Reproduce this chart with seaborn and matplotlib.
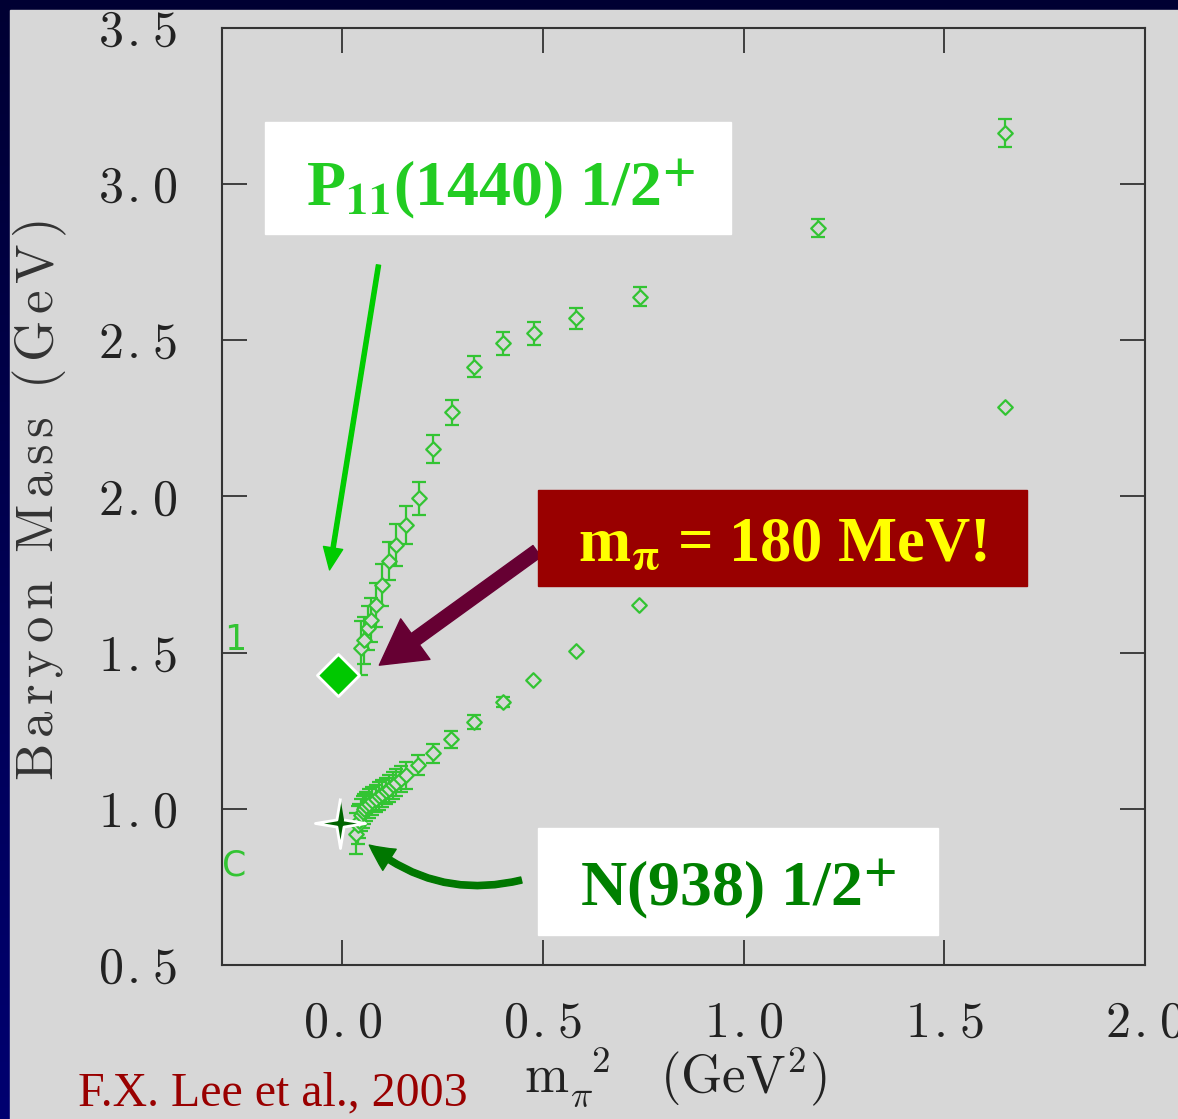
"""
Baryon mass vs m_pi^2 (F.X. Lee et al., 2003) - slide recreation
Output: out.png
"""
import matplotlib
matplotlib.use('Agg')
import matplotlib.pyplot as plt
from matplotlib.patches import Rectangle
from matplotlib.path import Path
from matplotlib.colors import LinearSegmentedColormap
import seaborn as sns
import pandas as pd
import numpy as np

# --- data ---
# excited state (P11 channel), m_pi^2 in GeV^2, mass in GeV
p11_x = [0.047, 0.055, 0.063, 0.072, 0.084, 0.098, 0.116, 0.134, 0.159, 0.190,
         0.225, 0.273, 0.329, 0.400, 0.477, 0.583, 0.741, 1.185, 1.651]
p11_y = [1.515, 1.540, 1.580, 1.604, 1.652, 1.716, 1.793, 1.845, 1.909, 1.994,
         2.152, 2.269, 2.416, 2.490, 2.522, 2.570, 2.640, 2.860, 3.164]
p11_err = [0.085, 0.075, 0.070, 0.070, 0.070, 0.067, 0.060, 0.067, 0.060, 0.053,
           0.044, 0.040, 0.034, 0.038, 0.036, 0.033, 0.031, 0.030, 0.045]

# nucleon ground state
nuc_x = [0.034, 0.038, 0.042, 0.047, 0.051, 0.055, 0.060, 0.067, 0.075, 0.084,
         0.092, 0.099, 0.108, 0.117, 0.125, 0.134, 0.146, 0.159, 0.188, 0.225,
         0.271, 0.329, 0.399, 0.476, 0.581, 0.738, 1.651]
nuc_y = [0.921, 0.948, 0.962, 0.980, 0.990, 1.000, 1.008, 1.017, 1.025, 1.033,
         1.041, 1.049, 1.057, 1.065, 1.075, 1.084, 1.096, 1.108, 1.140, 1.178,
         1.222, 1.279, 1.342, 1.412, 1.505, 1.652, 2.286]
nuc_err = [0.065, 0.060, 0.055, 0.050, 0.050, 0.048, 0.046, 0.045, 0.045, 0.044,
           0.044, 0.043, 0.043, 0.042, 0.042, 0.042, 0.042, 0.043, 0.033, 0.030,
           0.026, 0.023, 0.015, 0.0, 0.0, 0.0, 0.0]

# physical points
phys_p11 = (-0.012, 1.43)
phys_nuc = (-0.007, 0.955)

x_ticks = [0.0, 0.5, 1.0, 1.5, 2.0]
y_ticks = [0.5, 1.0, 1.5, 2.0, 2.5, 3.0, 3.5]

df_p = pd.DataFrame({'x': p11_x, 'y': p11_y, 'err': p11_err})
df_n = pd.DataFrame({'x': nuc_x, 'y': nuc_y, 'err': nuc_err})

sns.set_style('ticks')
plt.rcParams['font.family'] = ['Liberation Serif', 'DejaVu Serif']
plt.rcParams['mathtext.fontset'] = 'cm'

W, H = 1178, 1119
GRAY = '#d7d7d7'
GREEN = '#33c433'


def spaced(txt, gap):
    # computer-modern text with a little letter spacing, like the old plot
    parts = [r'\ ' if ch == ' ' else ch for ch in txt]
    return r'$\mathrm{' + (r'\hspace{%g}' % gap).join(parts) + '}$'


fig = plt.figure(figsize=(W / 100, H / 100), dpi=100)
fig.patch.set_facecolor('#000033')

# navy slide background + gray plot panel
bg = fig.add_axes([0, 0, 1, 1], zorder=-10)
grad = np.linspace(0, 1, 256).reshape(-1, 1)
bg.imshow(grad, aspect='auto', extent=[0, 1, 0, 1], origin='upper',
          cmap=LinearSegmentedColormap.from_list('navy', ['#000033', '#000070']))
bg.add_patch(Rectangle((10 / W, 0), 1, 1 - 10 / H, color=GRAY))
bg.set_xlim(0, 1); bg.set_ylim(0, 1)
bg.set_axis_off()

ax = fig.add_axes([222 / W, 1 - 965 / H, (1145 - 222) / W, (965 - 28) / H])
ax.patch.set_visible(False)

# error bars first, then hollow diamonds on top
for d in (df_p, df_n):
    e = d[d['err'] > 0]
    ax.errorbar(e['x'], e['y'], yerr=e['err'], fmt='none', ecolor=GREEN,
                elinewidth=1.6, capsize=5, capthick=1.6, zorder=2)
    sns.scatterplot(data=d, x='x', y='y', marker='D', s=55, color=GREEN,
                    facecolor=GRAY, edgecolor=GREEN, linewidth=1.6, ax=ax, zorder=3)

# physical states
ax.scatter([phys_p11[0]], [phys_p11[1]], marker='D', s=460, color='#00c800',
           edgecolor='white', linewidth=2, zorder=6)
r_in = 0.2
ang = np.arange(8) * np.pi / 4 + np.pi / 2
rad = np.where(np.arange(8) % 2 == 0, 1.0, r_in)
star = Path(np.column_stack([rad * np.cos(ang), rad * np.sin(ang)]))
ax.scatter([phys_nuc[0]], [phys_nuc[1]], marker=star, s=1300, color='#006400',
           edgecolor='white', linewidth=2, zorder=6)

# clipped glyphs at the left edge
ax.text(-0.295, 1.54, '1', color=GREEN, fontsize=25, ha='left', va='center',
        family='DejaVu Sans')
ax.text(-0.3, 0.82, 'C', color=GREEN, fontsize=25, ha='left', va='center',
        family='DejaVu Sans')

ax.set_xlim(-0.3, 2.0)
ax.set_ylim(0.5, 3.5)
ax.set_xticks(x_ticks)
ax.set_yticks(y_ticks)
ax.set_xticklabels([spaced('%.1f' % v, 0.08) for v in x_ticks])
ax.set_yticklabels([spaced('%.1f' % v, 0.08) for v in y_ticks])
ax.tick_params(direction='in', length=18, width=1.3, top=True, right=True,
               labelsize=36, labelcolor='#222222', color='#333333')
ax.tick_params(axis='x', pad=26)
ax.tick_params(axis='y', pad=32)
for s in ax.spines.values():
    s.set_visible(True)
    s.set_color('#333333')
    s.set_linewidth(1.5)
ax.set_xlabel(r'$\mathrm{m}_{\pi}^{\ \ 2}\ \ \ \mathrm{(GeV^{2})}$', fontsize=38, color='#222222')
ax.set_ylabel(spaced('Baryon Mass (GeV)', 0.14), fontsize=38, color='#333333')
ax.xaxis.set_label_coords((675 - 222) / 923, (965 - 1045) / 937)
ax.yaxis.set_label_coords((69 - 222) / 923, (965 - 500) / 937)

# arrows
ax.annotate('', xy=(-0.032, 1.765), xytext=(0.090, 2.741),
            arrowprops=dict(arrowstyle='simple,head_length=1.6,head_width=1.4,tail_width=0.3',
                            color='#00cc00', mutation_scale=10, shrinkA=0, shrinkB=0))
ax.annotate('', xy=(0.092, 1.460), xytext=(0.485, 1.825),
            arrowprops=dict(arrowstyle='simple,head_length=3.2,head_width=3.6,tail_width=1.0',
                            color='#660033', mutation_scale=10, shrinkA=0, shrinkB=0))
ax.annotate('', xy=(0.067, 0.884), xytext=(0.446, 0.772),
            arrowprops=dict(arrowstyle='simple,head_length=1.8,head_width=1.8,tail_width=0.45',
                            color='#007700', mutation_scale=10, shrinkA=0, shrinkB=0,
                            connectionstyle='arc3,rad=-0.25'))


# label boxes
def box(x0, y0, x1, y1, color):
    fig.add_artist(Rectangle((x0 / W, 1 - y1 / H), (x1 - x0) / W, (y1 - y0) / H,
                             color=color, transform=fig.transFigure, zorder=2))


box(265, 122, 731, 234, 'white')
box(538, 490, 1027, 586, '#990000')
box(538, 828, 938, 935, 'white')

fig.text(500 / W, 1 - 205 / H, r'P$_{\mathbf{11}}$(1440) 1/2$^{\mathbf{+}}$',
         color='#22cc22', fontsize=46, fontweight='bold', ha='center', va='baseline',
         math_fontfamily='stix', zorder=3)
fig.text(782 / W, 1 - 562 / H, r'm$_{\mathbf{\pi}}$ = 180 MeV!',
         color='#ffff00', fontsize=45, fontweight='bold', ha='center', va='baseline',
         math_fontfamily='stix', zorder=3)
fig.text(738 / W, 1 - 905 / H, r'N(938) 1/2$^{\mathbf{+}}$',
         color='#008000', fontsize=46, fontweight='bold', ha='center', va='baseline',
         math_fontfamily='stix', zorder=3)
fig.text(78 / W, 1 - 1105 / H, 'F.X. Lee et al., 2003', color='#990000',
         fontsize=34.5, ha='left', va='baseline')

plt.savefig('out.png', dpi=100)
plt.close()
